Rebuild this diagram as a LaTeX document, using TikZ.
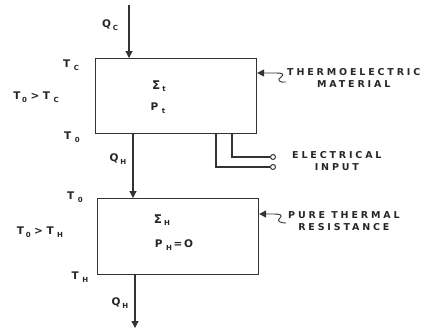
\documentclass[tikz,border=0pt]{standalone}
\usepackage{fontspec}
\setmainfont{DejaVu Sans}[BoldFont={DejaVu Sans Bold}]
\newfontfamily\lbl{DejaVu Sans Bold}[LetterSpace=30]
\newfontfamily\sym{DejaVu Sans Bold}
\usetikzlibrary{arrows.meta}
\newcommand{\lsub}[1]{\,\raisebox{-2.5pt}{\fontsize{7}{7}\selectfont #1}}
\begin{document}
\begin{tikzpicture}[x=1pt,y=-1pt,
  ink/.style={draw=black!80, line width=1.1pt},
  box/.style={ink, rectangle, inner sep=0pt},
  lab/.style={font=\fontsize{9.5}{12}\selectfont\lbl, align=center, inner sep=0pt, text=black!85},
  sy/.style={font=\fontsize{10.5}{11}\selectfont\sym, inner sep=0pt, text=black!85},
  big/.style={font=\fontsize{12}{13}\selectfont\sym},
  tip/.style={-{Triangle[length=7pt,width=7pt]}},
  term/.style={circle, draw=black!80, line width=1pt, fill=white, minimum size=5pt, inner sep=0pt}
]
\useasboundingbox (0,0) rectangle (431,335);
% boxes
\node[box, minimum width=161pt, minimum height=75pt, anchor=north west] (top) at (95,58) {};
\node[box, minimum width=161pt, minimum height=76pt, anchor=north west] (bot) at (97,198) {};
% coordinates
\coordinate (qcs) at (129,5);
\coordinate (qho) at (135,328);
\coordinate (ta) at (216,133);
\coordinate (tb) at (232,133);
\node[term] (ea) at (273,167) {};
\node[term] (eb) at (273,157) {};
% arrows
\draw[ink, tip] (qcs) -- (qcs |- top.north);
\draw[ink, tip] (top.south -| 133,0) -- (bot.north -| 133,0);
\draw[ink, tip] (bot.south -| 135,0) -- (qho);
% electrical leads
\draw[ink] (ta) |- (ea.west);
\draw[ink] (tb) |- (eb.west);
% texts in boxes
\node[sy, big] (sigt) at (159,86) {Σ\lsub{t}};
\node[sy] (pt) at (158,108) {P\,\lsub{t}};
\node[sy, big] (sigh) at (162,220) {Σ\lsub{H}};
\node[sy] (ph) at (174,245) {P\,\lsub{H}\,=\,O};
% side labels
\node[sy] (qc) at (110,25) {Q\lsub{C}};
\node[sy] (tc) at (71,65) {T\,\lsub{C}};
\node[sy] (cmp1) at (36,97) {T\lsub{0}\,\,>\,\,T\,\lsub{C}};
\node[sy] (t0a) at (72,137) {T\,\lsub{0}};
\node[sy] (qh1) at (118,159) {Q\lsub{H}};
\node[sy] (t0b) at (75,197) {T\,\lsub{0}};
\node[sy] (cmp2) at (40,232) {T\lsub{0}\,\,>\,\,T\,\lsub{H}};
\node[sy] (th) at (80,277) {T\,\lsub{H}};
\node[sy] (qh2) at (120,303) {Q\lsub{H}};
% right labels
\node[lab, anchor=west] (tem) at (287,78) {THERMOELECTRIC\\MATERIAL};
\node[lab, anchor=west] (ei) at (292,161) {ELECTRICAL\\INPUT};
\node[lab, anchor=west] (ptr) at (288,221) {PURE THERMAL\\RESISTANCE};
% leaders
\coordinate (la) at (top.east |- 0,73);
\coordinate (lb) at (bot.east |- 0,214);
\draw[draw=black!80, line width=0.9pt, tip] (286,82) .. controls (280,83) and (276,80) .. (281,77) .. controls (285,74) and (282,73) .. (276,73) -- (la);
\draw[draw=black!80, line width=0.9pt, tip] (286,223) .. controls (280,223) and (276,221) .. (280,218) .. controls (283,215) and (280,214) .. (274,214) -- (lb);
\end{tikzpicture}
\end{document}
